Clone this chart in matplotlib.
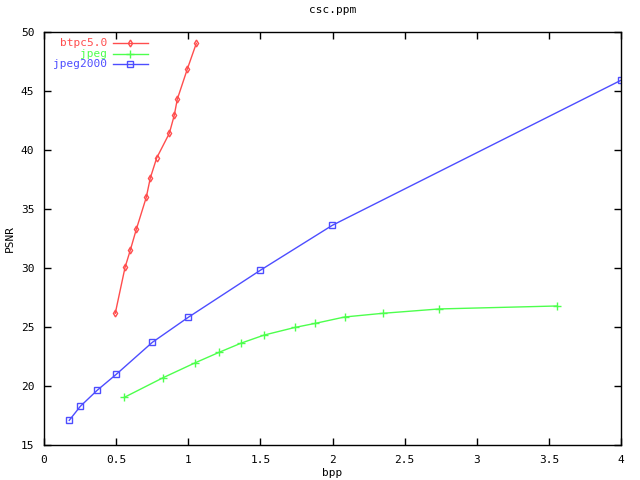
import matplotlib
matplotlib.use("Agg")
import matplotlib.pyplot as plt

title = "csc.ppm"
x_label = "bpp"
y_label = "PSNR"

btpc_bpp = [0.494, 0.562, 0.598, 0.640, 0.709, 0.737, 0.781, 0.869, 0.903, 0.924, 0.993, 1.056]
btpc_psnr = [26.16, 30.06, 31.50, 33.28, 35.99, 37.63, 39.32, 41.42, 42.94, 44.30, 46.84, 49.04]

jpeg_bpp = [0.557, 0.825, 1.045, 1.215, 1.368, 1.527, 1.742, 1.881, 2.085, 2.348, 2.740, 3.554]
jpeg_psnr = [19.04, 20.70, 21.95, 22.86, 23.64, 24.32, 24.97, 25.31, 25.85, 26.16, 26.53, 26.78]

j2k_bpp = [0.175, 0.252, 0.369, 0.501, 0.751, 1.000, 1.500, 1.999, 4.0]
j2k_psnr = [17.09, 18.28, 19.64, 20.99, 23.70, 25.82, 29.81, 33.62, 45.91]

x_ticks = [0, 0.5, 1, 1.5, 2, 2.5, 3, 3.5, 4]
x_tick_labels = ["0", "0.5", "1", "1.5", "2", "2.5", "3", "3.5", "4"]
y_ticks = [15, 20, 25, 30, 35, 40, 45, 50]

series = [
    ("btpc5.0", btpc_bpp, btpc_psnr, "#ff4d4d", "d", 3.5, "none"),
    ("jpeg", jpeg_bpp, jpeg_psnr, "#4dff4d", "+", 5.5, "#4dff4d"),
    ("jpeg2000", j2k_bpp, j2k_psnr, "#4d4dff", "s", 4, "none"),
]

plt.rcParams["font.family"] = ["DejaVu Sans Mono"]
fig = plt.figure(figsize=(6.4, 4.8), dpi=100)
ax = fig.add_axes([44/640, 1-445/480, 577/640, 413/480])

for name, xs, ys, col, mk, ms, fc in series:
    ax.plot(xs, ys, color=col, lw=1, marker=mk, markersize=ms,
            markerfacecolor=fc, markeredgecolor=col, markeredgewidth=1)

ax.set_xlim(0, 4)
ax.set_ylim(15, 50)
ax.set_xticks(x_ticks)
ax.set_xticklabels(x_tick_labels)
ax.set_yticks(y_ticks)
ax.tick_params(direction="in", top=True, right=True, length=5, width=1,
               labelsize=8, pad=7)
for s in ax.spines.values():
    s.set_linewidth(1)

ax.set_title(title, fontsize=8, pad=14)
ax.set_xlabel(x_label, fontsize=8, labelpad=2)
ax.set_ylabel(y_label, fontsize=8, labelpad=4)

# legend (manual, gnuplot-style)
leg_y = [0.973, 0.947, 0.9225]
for (name, xs, ys, col, mk, ms, fc), yy in zip(series, leg_y):
    ax.text(0.109, yy, name, transform=ax.transAxes, ha="right", va="center",
            color=col, fontsize=8)
    ax.plot([0.120, 0.180], [yy, yy], transform=ax.transAxes, color=col, lw=1,
            clip_on=False)
    ax.plot([0.149], [yy], transform=ax.transAxes, color=col, marker=mk,
            markersize=ms, markerfacecolor=fc, markeredgecolor=col,
            markeredgewidth=1, clip_on=False)

fig.savefig("out.png", dpi=100)
